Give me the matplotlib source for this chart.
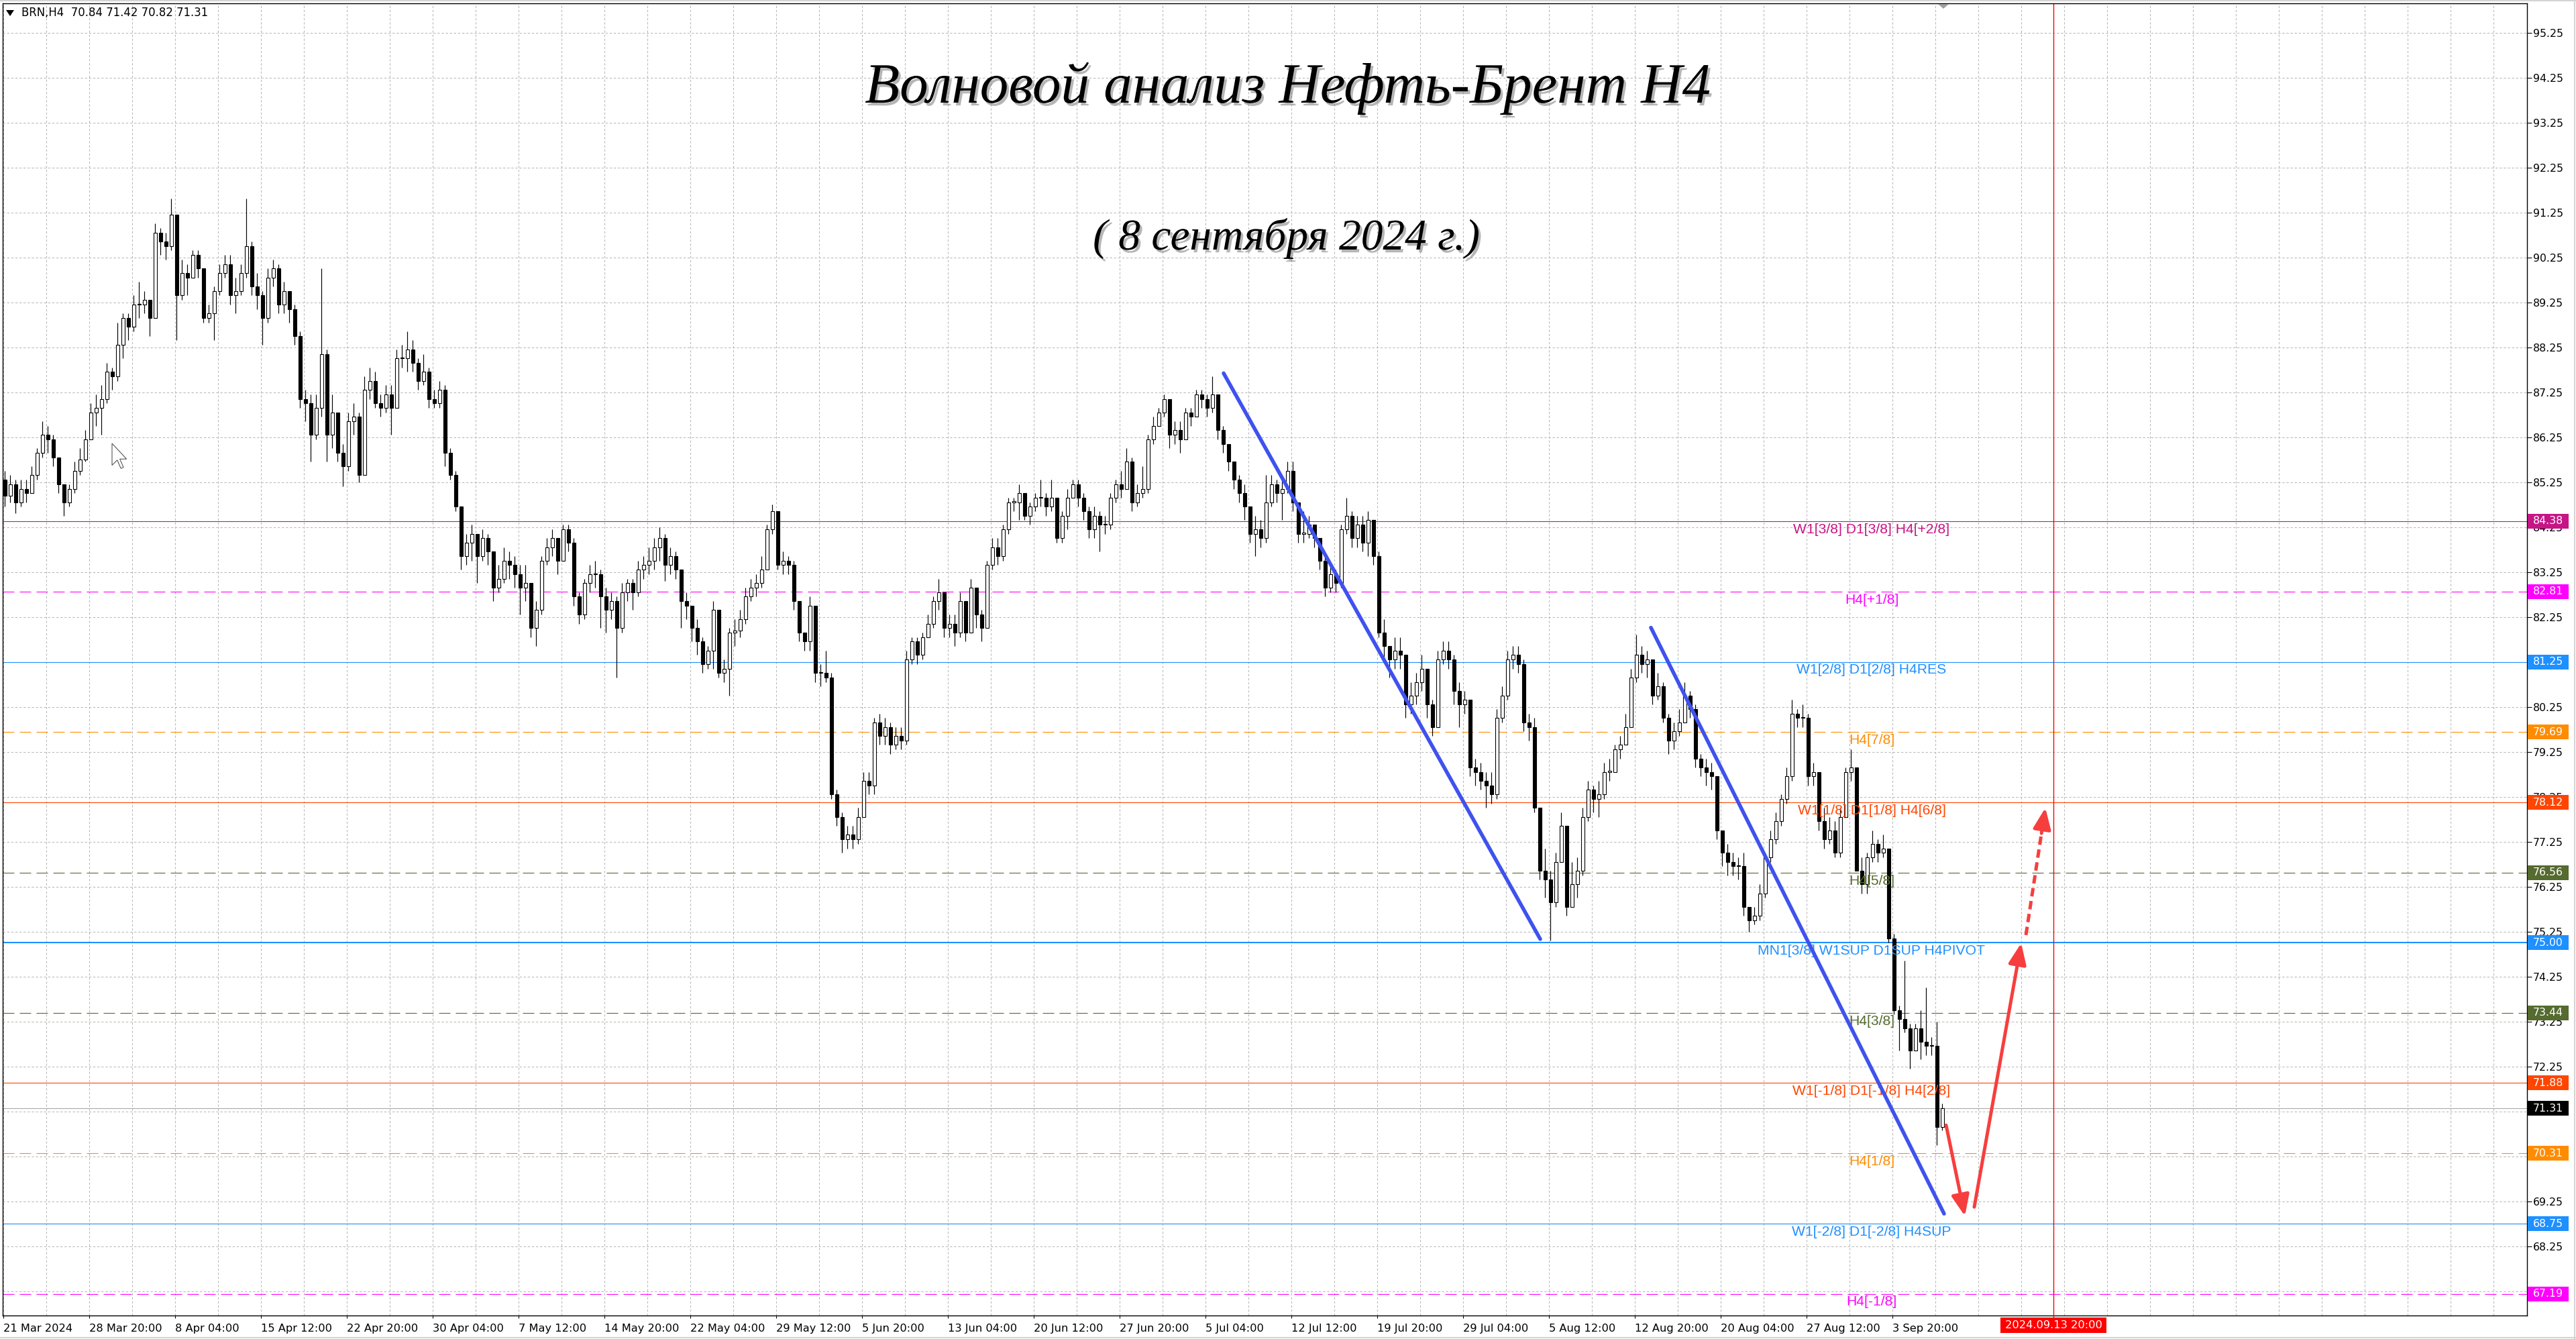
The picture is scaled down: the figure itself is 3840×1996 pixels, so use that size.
import matplotlib
matplotlib.use("Agg")
import matplotlib.pyplot as plt
import matplotlib.patheffects as pe
from matplotlib.patches import Rectangle, Polygon, FancyArrowPatch, ArrowStyle
from matplotlib.lines import Line2D
from matplotlib.transforms import blended_transform_factory
import numpy as np

plt.rcParams['lines.scale_dashes'] = False
plt.rcParams['font.family'] = ['DejaVu Sans']

# ---------------- data (8-hour candles, x in 4h-bar units) ----------------
FIRST_OPEN = 85.30
CLOSE = [
    84.95, 85.2, 84.8, 85.1, 85.0, 85.4, 85.9, 86.3, 86.2, 85.8,
    85.2, 84.8, 85.1, 85.5, 85.75, 86.2, 86.8, 86.9, 87.1, 87.7,
    87.6, 88.3, 88.9, 88.7, 89.2, 89.2, 89.3, 88.9, 90.8, 90.6,
    90.5, 91.2, 89.4, 89.9, 89.8, 90.3, 90.0, 88.9, 89.0, 89.5,
    89.9, 90.1, 89.4, 89.5, 89.9, 90.5, 89.6, 89.4, 88.9, 89.8,
    90.0, 89.2, 89.5, 89.1, 88.5, 87.1, 87.0, 86.3, 86.9, 88.1,
    86.3, 86.8, 85.9, 85.6, 86.6, 86.7, 85.4, 87.3, 87.5, 87.0,
    86.9, 87.2, 86.9, 88.0, 88.0, 88.2, 87.9, 87.5, 87.7, 87.1,
    87.0, 87.3, 85.9, 85.4, 84.7, 83.6, 83.9, 84.1, 83.6, 84.0,
    83.7, 82.9, 83.1, 83.5, 83.4, 83.2, 82.9, 83.0, 82.0, 82.4,
    83.5, 83.8, 84.0, 83.5, 84.2, 83.9, 82.7, 82.3, 83.0, 83.2,
    83.2, 82.7, 82.4, 82.6, 82.0, 82.8, 83.0, 82.8, 83.3, 83.4,
    83.5, 83.8, 84.0, 83.4, 83.6, 83.3, 82.6, 82.5, 82.0, 81.7,
    81.2, 81.5, 82.4, 81.0, 81.1, 81.9, 81.95, 82.2, 82.7, 82.9,
    83.0, 83.3, 84.2, 84.6, 83.4, 83.5, 83.4, 82.6, 81.9, 81.7,
    82.5, 81.0, 81.0, 80.9, 78.3, 77.8, 77.3, 77.4, 77.3, 77.8,
    78.6, 78.5, 79.9, 79.6, 79.8, 79.4, 79.6, 79.5, 81.3, 81.7,
    81.4, 81.8, 82.1, 82.6, 82.8, 82.0, 82.1, 81.9, 82.6, 81.9,
    82.9, 82.3, 82.0, 83.4, 83.8, 83.6, 84.2, 84.8, 84.8, 85.0,
    84.5, 84.7, 84.9, 84.9, 84.7, 84.9, 84.0, 84.5, 84.9, 85.2,
    84.9, 84.6, 84.2, 84.5, 84.3, 84.3, 84.9, 85.2, 85.1, 85.7,
    84.8, 85.0, 85.1, 86.2, 86.5, 86.8, 87.1, 86.3, 86.4, 86.2,
    86.8, 86.7, 87.2, 87.1, 86.9, 87.2, 86.4, 86.1, 85.7, 85.3,
    85.0, 84.7, 84.1, 84.2, 84.0, 84.8, 85.2, 85.0, 85.1, 85.5,
    84.8, 84.1, 84.1, 84.3, 84.0, 83.5, 82.9, 83.2, 83.0, 84.2,
    84.5, 84.0, 84.3, 83.9, 84.4, 83.6, 81.9, 81.6, 81.3, 81.5,
    81.4, 80.3, 80.5, 80.8, 81.1, 80.3, 79.8, 81.3, 81.5, 81.3,
    80.6, 80.3, 80.4, 78.9, 78.8, 78.6, 78.5, 78.3, 80.0, 80.5,
    81.3, 81.4, 81.2, 79.9, 79.8, 78.0, 76.6, 76.4, 75.9, 76.8,
    77.6, 75.8, 76.3, 76.6, 77.8, 78.4, 78.2, 78.3, 78.8, 78.8,
    79.3, 79.4, 79.8, 80.9, 81.4, 81.2, 81.3, 80.5, 80.7, 80.0,
    79.5, 79.7, 79.9, 80.5, 80.2, 79.1, 78.9, 78.8, 78.7, 77.5,
    77.0, 76.8, 76.7, 76.7, 75.8, 75.5, 75.6, 76.1, 76.9, 77.3,
    77.7, 78.2, 78.7, 80.1, 80.0, 80.0, 78.7, 78.8, 77.7, 77.3,
    77.5, 77.0, 77.8, 78.8, 78.9, 76.6, 76.3, 76.9, 77.2, 77.0,
    77.1, 75.1, 73.5, 73.3, 73.1, 72.6, 73.1, 72.8, 72.7, 72.7,
    70.9, 71.31,
]
HIGH = [
    85.5, 85.4, 85.3, 85.3, 85.3, 85.6, 86.0, 86.6, 86.5, 86.3,
    85.8, 85.2, 85.2, 85.7, 86.0, 86.4, 87.0, 87.2, 87.4, 87.9,
    87.8, 88.8, 89.0, 89.0, 89.4, 89.7, 89.5, 89.3, 91.0, 90.9,
    90.8, 91.55, 91.2, 90.2, 90.1, 90.4, 90.4, 90.0, 89.2, 89.6,
    90.1, 90.3, 90.3, 89.8, 90.1, 91.55, 90.6, 89.9, 89.5, 90.0,
    90.2, 90.1, 89.7, 89.5, 89.2, 88.6, 87.3, 87.2, 87.2, 90.0,
    88.2, 87.2, 86.5, 86.1, 86.8, 87.0, 86.8, 87.6, 87.8, 87.7,
    87.2, 87.4, 87.4, 88.2, 88.3, 88.6, 88.4, 88.0, 88.1, 87.8,
    87.3, 87.5, 87.4, 86.0, 85.5, 84.7, 84.1, 84.3, 84.1, 84.2,
    84.1, 83.7, 83.4, 83.8, 83.7, 83.6, 83.4, 83.4, 83.0, 82.6,
    83.6, 84.0, 84.2, 84.0, 84.3, 84.3, 84.0, 82.8, 83.1, 83.4,
    83.5, 83.3, 82.9, 82.8, 82.7, 83.0, 83.1, 83.1, 83.5, 83.6,
    83.8, 84.0, 84.25, 84.1, 83.8, 83.7, 83.3, 82.8, 82.5, 82.2,
    81.8, 81.6, 82.6, 82.4, 81.3, 82.0, 82.2, 82.4, 82.9, 83.1,
    83.2, 83.6, 84.3, 84.75, 84.6, 83.7, 83.6, 83.5, 82.6, 81.9,
    82.7, 82.5, 81.2, 81.5, 81.0, 78.4, 77.9, 77.6, 77.6, 78.0,
    78.8, 78.8, 80.0, 80.1, 80.0, 79.9, 79.8, 79.8, 81.5, 81.8,
    81.8, 81.9, 82.3, 82.7, 83.1, 82.8, 82.3, 82.3, 82.8, 82.6,
    83.1, 82.8, 82.4, 83.5, 84.0, 84.0, 84.3, 84.9, 84.9, 85.2,
    85.0, 84.8, 85.0, 85.3, 85.0, 85.3, 84.9, 84.6, 85.1, 85.3,
    85.3, 85.0, 84.7, 84.7, 84.6, 84.5, 85.0, 85.3, 85.5, 86.0,
    85.8, 85.2, 85.6, 86.3, 86.7, 86.9, 87.2, 87.1, 86.6, 86.6,
    86.9, 86.9, 87.3, 87.3, 87.2, 87.6, 87.2, 86.5, 86.1, 85.7,
    85.4, 85.2, 84.7, 84.5, 84.4, 85.4, 85.4, 85.3, 85.3, 85.7,
    85.7, 84.8, 84.6, 84.5, 84.3, 84.0, 83.6, 83.4, 83.3, 84.3,
    84.9, 84.6, 84.5, 84.5, 84.6, 84.4, 83.7, 82.2, 81.6, 81.8,
    81.8, 81.4, 80.8, 81.0, 81.4, 81.1, 80.4, 81.5, 81.7, 81.7,
    81.4, 80.8, 80.6, 80.4, 79.1, 79.0, 78.8, 78.8, 80.2, 80.7,
    81.5, 81.6, 81.6, 81.3, 80.1, 80.0, 77.9, 77.1, 76.6, 77.0,
    77.9, 77.5, 76.8, 76.9, 78.0, 78.6, 78.5, 78.6, 79.0, 79.1,
    79.4, 79.6, 80.1, 81.1, 81.85, 81.6, 81.5, 81.3, 81.0, 80.8,
    80.1, 79.9, 80.2, 80.8, 80.6, 80.3, 79.2, 79.1, 79.0, 78.7,
    77.5, 77.2, 77.0, 76.9, 77.0, 75.8, 75.8, 76.3, 77.0, 77.5,
    77.9, 78.3, 78.9, 80.4, 80.2, 80.3, 80.1, 79.0, 78.8, 78.0,
    77.8, 77.7, 78.0, 78.9, 79.3, 78.9, 76.9, 77.0, 77.5, 77.3,
    77.4, 77.1, 75.2, 73.6, 74.6, 73.2, 73.2, 73.5, 74.0, 72.9,
    73.25, 71.42,
]
LOW = [
    84.7, 84.8, 84.55, 84.7, 84.8, 85.0, 85.3, 85.8, 85.9, 85.6,
    85.0, 84.5, 84.7, 85.0, 85.4, 85.7, 86.2, 86.5, 86.3, 87.0,
    87.3, 87.5, 88.0, 88.4, 88.6, 88.9, 89.0, 88.5, 88.9, 90.3,
    90.2, 90.4, 88.4, 89.3, 89.4, 89.8, 89.8, 88.8, 88.8, 88.4,
    89.4, 89.8, 89.2, 89.0, 89.4, 89.8, 89.4, 89.1, 88.3, 88.8,
    89.6, 89.0, 89.0, 88.8, 88.3, 86.9, 86.6, 85.7, 86.2, 86.7,
    85.7, 86.0, 85.7, 85.15, 85.5, 86.3, 85.25, 85.5, 87.1, 86.9,
    86.7, 86.8, 86.3, 86.9, 87.8, 87.7, 87.7, 87.3, 87.4, 86.9,
    86.9, 86.9, 85.6, 85.3, 84.6, 83.3, 83.4, 83.5, 83.0, 83.5,
    83.4, 82.6, 82.8, 83.0, 83.1, 82.9, 82.3, 82.6, 81.8, 81.6,
    82.3, 83.4, 83.6, 83.2, 83.6, 83.7, 82.5, 82.1, 82.2, 82.8,
    82.9, 82.0, 81.9, 82.2, 80.9, 81.9, 82.6, 82.4, 82.7, 83.1,
    83.2, 83.3, 83.5, 83.05, 83.2, 83.1, 82.0, 82.2, 81.7, 81.4,
    81.0, 81.1, 81.1, 80.9, 80.8, 80.5, 81.6, 81.8, 82.1, 82.6,
    82.7, 82.9, 83.3, 84.1, 83.3, 83.2, 83.2, 82.4, 81.7, 81.5,
    81.5, 80.8, 80.7, 80.8, 78.2, 77.6, 77.0, 77.1, 77.1, 77.2,
    77.8, 78.3, 78.3, 79.4, 79.4, 79.2, 79.3, 79.3, 79.4, 81.2,
    81.2, 81.3, 81.8, 82.0, 82.4, 81.8, 81.8, 81.6, 81.8, 81.7,
    82.0, 82.0, 81.7, 82.0, 83.3, 83.4, 83.5, 84.1, 84.6, 84.4,
    84.4, 84.3, 84.6, 84.7, 84.5, 84.6, 83.9, 83.9, 84.2, 84.9,
    84.7, 84.4, 84.0, 84.0, 83.7, 84.1, 84.2, 84.8, 84.9, 85.1,
    84.6, 84.7, 84.9, 85.0, 86.1, 86.5, 86.7, 86.0, 86.1, 85.9,
    86.2, 86.5, 86.7, 86.9, 86.7, 86.8, 86.2, 85.9, 85.5, 85.1,
    84.8, 84.4, 83.9, 83.6, 83.8, 83.9, 84.7, 84.8, 84.4, 85.0,
    84.6, 83.9, 83.9, 84.0, 83.8, 83.3, 82.7, 82.8, 82.8, 82.9,
    84.1, 83.8, 83.8, 83.7, 83.6, 83.4, 81.8, 81.3, 80.9, 81.1,
    81.1, 80.0, 80.1, 80.3, 80.6, 80.0, 79.6, 79.8, 81.2, 81.1,
    80.3, 79.8, 80.1, 78.7, 78.5, 78.4, 78.0, 78.1, 78.2, 79.9,
    80.4, 81.1, 81.0, 79.7, 79.5, 77.9, 76.4, 76.0, 75.05, 75.8,
    76.9, 75.6, 75.8, 76.0, 76.5, 77.7, 77.9, 77.8, 78.2, 78.6,
    78.9, 79.1, 79.4, 79.8, 80.8, 81.0, 80.9, 80.3, 80.4, 79.9,
    79.2, 79.3, 79.6, 79.9, 80.0, 78.9, 78.7, 78.5, 78.4, 77.3,
    76.7, 76.5, 76.5, 76.4, 75.6, 75.25, 75.4, 75.5, 76.0, 76.8,
    77.2, 77.6, 78.1, 78.6, 79.8, 79.8, 78.5, 78.5, 77.5, 77.1,
    77.2, 76.9, 76.9, 77.8, 78.6, 76.6, 76.1, 76.1, 76.8, 76.8,
    76.9, 75.0, 73.4, 72.6, 73.0, 72.2, 72.6, 72.4, 72.5, 72.5,
    70.5, 70.82,
]

DATE_LABELS = ["21 Mar 2024", "28 Mar 20:00", "8 Apr 04:00", "15 Apr 12:00",
               "22 Apr 20:00", "30 Apr 04:00", "7 May 12:00", "14 May 20:00",
               "22 May 04:00", "29 May 12:00", "5 Jun 20:00", "13 Jun 04:00",
               "20 Jun 12:00", "27 Jun 20:00", "5 Jul 04:00", "12 Jul 12:00",
               "19 Jul 20:00", "29 Jul 04:00", "5 Aug 12:00", "12 Aug 20:00",
               "20 Aug 04:00", "27 Aug 12:00", "3 Sep 20:00"]
DATE_BARS = [32 * k for k in range(len(DATE_LABELS))]

PRICE_TICKS = [67.25, 68.25, 69.25, 70.25, 71.25, 72.25, 73.25, 74.25, 75.25,
               76.25, 77.25, 78.25, 79.25, 80.25, 81.25, 82.25, 83.25, 84.25,
               85.25, 86.25, 87.25, 88.25, 89.25, 90.25, 91.25, 92.25, 93.25,
               94.25, 95.25]

LEVELS = [84.38, 82.81, 81.25, 79.69, 78.12, 76.56, 75.00, 73.44, 71.88, 70.31, 68.75, 67.19]
LEVEL_TAGS = ["W1[3/8] D1[3/8] H4[+2/8]", "H4[+1/8]", "W1[2/8] D1[2/8] H4RES", "H4[7/8]",
              "W1[1/8] D1[1/8] H4[6/8]", "H4[5/8]", "MN1[3/8] W1SUP D1SUP H4PIVOT", "H4[3/8]",
              "W1[-1/8] D1[-1/8] H4[2/8]", "H4[1/8]", "W1[-2/8] D1[-2/8] H4SUP", "H4[-1/8]"]
CURRENT_PRICE = 71.31
HEADER = "BRN,H4  70.84 71.42 70.82 71.31"

TREND1_X = [454.75, 572.75]
TREND1_Y = [87.67, 75.08]
TREND2_X = [614.0, 723.25]
TREND2_Y = [82.01, 68.97]
ARROW_DOWN_X = [724.0, 731.0]
ARROW_DOWN_Y = [70.94, 68.92]
ARROW_UP_X = [734.5, 752.0]
ARROW_UP_Y = [69.12, 74.99]
ARROW_DASH_X = [753.75, 761.0]
ARROW_DASH_Y = [75.17, 78.00]
VLINE_BAR = 764
VLINE_LABEL = "2024.09.13 20:00"

TITLE = "Волновой анализ Нефть-Брент H4"
SUBTITLE = "( 8 сентября 2024 г.)"

# ---------------- styles ----------------
LEVEL_STYLE = {
    84.38: ("#C71585", "-", 0.8),
    82.81: ("#FF00FF", "--", 0.8),
    81.25: ("#1E90FF", "-", 0.8),
    79.69: ("#FF8C00", "--", 0.8),
    78.12: ("#FF4500", "-", 0.8),
    76.56: ("#556B2F", "--", 0.8),
    75.00: ("#1E90FF", "-", 1.5),
    73.44: ("#556B2F", "--", 0.8),
    71.88: ("#FF4500", "-", 0.8),
    70.31: ("#FF8C00", "--", 0.8),
    68.75: ("#1E90FF", "-", 0.8),
    67.19: ("#FF00FF", "--", 0.8),
}
W, H, DPI = 3840, 1996, 100
AX_L, AX_R, AX_T, AX_B = 4, 3767, 5, 1961
PX_PER_UNIT = 67.0
Y_TOP = 95.25 + (48.5 - AX_T) / PX_PER_UNIT
Y_BOT = 95.25 - (AX_B - 48.5) / PX_PER_UNIT
X_LEFT, X_RIGHT = -0.25, 940.5
LABEL_BAR = 696.25
BLUE = "#3F52EE"
RED = "#F73E3E"
LABEL_FONT = ["Liberation Sans", "DejaVu Sans"]


def fx(px):
    return px / W


def fy(py):
    return 1 - py / H


fig = plt.figure(figsize=(W / DPI, H / DPI), dpi=DPI)
fig.patch.set_facecolor("white")
renderer = fig.canvas.get_renderer()


def fit_size(text, target_px, **kw):
    t = fig.text(0, 0, text, fontsize=100, **kw)
    w = t.get_window_extent(renderer=renderer).width
    t.remove()
    return 100.0 * target_px / w


ax = fig.add_axes([fx(AX_L), fy(AX_B), (AX_R - AX_L) / W, (AX_B - AX_T) / H])
ax.set_xlim(X_LEFT, X_RIGHT)
ax.set_ylim(Y_BOT, Y_TOP)
ax.set_facecolor("white")
for s in ax.spines.values():
    s.set_color("black")
    s.set_linewidth(1.0)

# grid
grid_kw = dict(color="#B8B8B8", lw=0.75, ls=(0, (2.4, 2.0)), zorder=0.5)
for b in range(0, 941, 16):
    ax.axvline(b, **grid_kw)
for v in PRICE_TICKS:
    ax.axhline(v, **grid_kw)

# level lines
for v in LEVELS:
    col, ls, lw = LEVEL_STYLE[v]
    dash = (0, (12.2, 5.8)) if ls == "--" else "-"
    ax.axhline(v, color=col, lw=lw, ls=dash, zorder=1)
ax.axhline(CURRENT_PRICE, color="#A8A8A8", lw=0.8, zorder=1)

# vertical red line
ax.axvline(VLINE_BAR, color="#FF0000", lw=1.0, zorder=1.5)

# candles
close = np.array(CLOSE)
n = min(len(CLOSE), len(HIGH), len(LOW))
close = close[:n]
opens = np.concatenate([[FIRST_OPEN], close[:-1]])
high = np.maximum(np.array(HIGH[:n]), np.maximum(opens, close))
low = np.minimum(np.array(LOW[:n]), np.minimum(opens, close))
xs = np.arange(n) * 2 + 0.5
ax.vlines(xs, low, high, color="black", lw=0.85, zorder=4)
bottom = np.minimum(opens, close)
height = np.maximum(np.abs(close - opens), 0.018)
bull = close >= opens
ax.bar(xs[bull], height[bull], bottom=bottom[bull], width=1.25, facecolor="white",
       edgecolor="black", linewidth=0.8, zorder=5)
ax.bar(xs[~bull], height[~bull], bottom=bottom[~bull], width=1.25, facecolor="black",
       edgecolor="black", linewidth=0.8, zorder=5)

# level labels
for v, tag in zip(LEVELS, LEVEL_TAGS):
    col = LEVEL_STYLE[v][0]
    ax.annotate(tag, xy=(LABEL_BAR, v), xytext=(0, -2.0), textcoords="offset points",
                ha="center", va="top", color=col, fontsize=15.2,
                family=LABEL_FONT, zorder=8)

# trend lines
ax.plot(TREND1_X, TREND1_Y, color=BLUE, lw=4.0, solid_capstyle="round", zorder=9)
ax.plot(TREND2_X, TREND2_Y, color=BLUE, lw=4.0, solid_capstyle="round", zorder=9)

# arrows
astyle = ArrowStyle("-|>", head_length=1.9, head_width=0.8)
for X, Y in [(ARROW_DOWN_X, ARROW_DOWN_Y), (ARROW_UP_X, ARROW_UP_Y)]:
    arr = FancyArrowPatch((X[0], Y[0]), (X[1], Y[1]), arrowstyle=astyle, mutation_scale=10,
                          color=RED, lw=3.6, capstyle="round", shrinkA=0, shrinkB=0, zorder=10)
    ax.add_patch(arr)
# dashed arrow: dashed shaft + solid head
dx = ARROW_DASH_X[1] - ARROW_DASH_X[0]
dy = ARROW_DASH_Y[1] - ARROW_DASH_Y[0]
ax.plot([ARROW_DASH_X[0], ARROW_DASH_X[0] + 0.82 * dx], [ARROW_DASH_Y[0], ARROW_DASH_Y[0] + 0.82 * dy],
        color=RED, lw=3.6, ls=(0, (9, 5)), zorder=10)
head = FancyArrowPatch((ARROW_DASH_X[0] + 0.80 * dx, ARROW_DASH_Y[0] + 0.80 * dy),
                       (ARROW_DASH_X[1], ARROW_DASH_Y[1]), arrowstyle=astyle, mutation_scale=10,
                       color=RED, lw=3.6, shrinkA=0, shrinkB=0, zorder=10)
ax.add_patch(head)

# axes ticks
ax.yaxis.tick_right()
ax.set_yticks(PRICE_TICKS)
ax.set_yticklabels([f"{v:.2f}" for v in PRICE_TICKS])
ax.tick_params(axis="y", length=5, width=0.8, pad=1.5, labelsize=11.3, colors="black")
ax.set_xticks(DATE_BARS)
ax.set_xticklabels(DATE_LABELS)
ax.tick_params(axis="x", length=3, width=0.8, pad=5.5, labelsize=11.7, colors="black")
for lbl in ax.get_xticklabels():
    lbl.set_ha("left")

# price boxes on the right scale
bt = blended_transform_factory(ax.transAxes, ax.transData)
bx0 = (3768 - AX_L) / (AX_R - AX_L)
bx1 = (3829 - AX_L) / (AX_R - AX_L)
bh = 22.0 / PX_PER_UNIT
box_items = [(v, LEVEL_STYLE[v][0]) for v in LEVELS] + [(CURRENT_PRICE, "black")]
for v, col in box_items:
    ax.add_patch(Rectangle((bx0, v - bh / 2), bx1 - bx0, bh, transform=bt, facecolor=col,
                           edgecolor="none", clip_on=False, zorder=20))
    ax.text((bx0 + bx1) / 2, v, f"{v:.2f}", transform=bt, ha="center", va="center",
            color="white", fontsize=11.3, clip_on=False, zorder=21)

# red date box under the vertical line
dt = blended_transform_factory(ax.transData, fig.transFigure)
ax.add_patch(Rectangle((VLINE_BAR - 79 / 4.0, fy(1987)), 158 / 4.0, 23 / H, transform=dt,
                       facecolor="#FF0000", edgecolor="none", clip_on=False, zorder=20))
ax.text(VLINE_BAR, fy(1975.5), VLINE_LABEL, transform=dt, ha="center", va="center",
        color="white", fontsize=11.7, clip_on=False, zorder=21)
ax.plot([VLINE_BAR, VLINE_BAR], [fy(1961), fy(1965)], transform=dt, color="#FF0000",
        lw=1.0, clip_on=False, zorder=21)

# header
fig.add_artist(Polygon([(fx(9), fy(15)), (fx(21), fy(15)), (fx(15), fy(24))],
                       closed=True, transform=fig.transFigure, facecolor="black", edgecolor="none"))
hs = fit_size(HEADER, 279)
fig.text(fx(32), fy(19.5), HEADER, ha="left", va="center", fontsize=hs, color="black")

# chart shift marker at top
fig.add_artist(Polygon([(fx(2889), fy(6)), (fx(2905), fy(6)), (fx(2897), fy(13))],
                       closed=True, transform=fig.transFigure, facecolor="#A0A0A0", edgecolor="none"))

# mouse cursor
cur = [(0, 0), (0, 21), (5, 16), (8.5, 24), (11, 23), (7.5, 15), (14, 15)]
cx, cy, sc = 167, 661, 1.55
fig.add_artist(Polygon([(fx(cx + sc * a), fy(cy + sc * b)) for a, b in cur], closed=True,
                       transform=fig.transFigure, facecolor="white", edgecolor="#555555", lw=0.8))

# titles
shadow = [pe.SimplePatchShadow(offset=(2.5, -3), shadow_rgbFace="#7A7A7A", alpha=0.55), pe.Normal()]
ts = fit_size(TITLE, 1261, family="Liberation Serif", style="italic")
fig.text(fx(1919.5), fy(153), TITLE, ha="center", va="baseline", fontsize=ts,
         family="Liberation Serif", style="italic", color="black", path_effects=shadow)
ss = fit_size(SUBTITLE, 577, family="Liberation Serif", style="italic")
fig.text(fx(1917.5), fy(372), SUBTITLE, ha="center", va="baseline", fontsize=ss,
         family="Liberation Serif", style="italic", color="black", path_effects=shadow)

# window frame
for (xa, ya, xb, yb) in [(0, 1, W, 1), (0, 1994, W, 1994), (3838, 0, 3838, H)]:
    fig.add_artist(Line2D([fx(xa), fx(xb)], [fy(ya), fy(yb)], transform=fig.transFigure,
                          color="#D4D4D4", lw=1.5))

fig.savefig("out.png", dpi=DPI, facecolor="white")
